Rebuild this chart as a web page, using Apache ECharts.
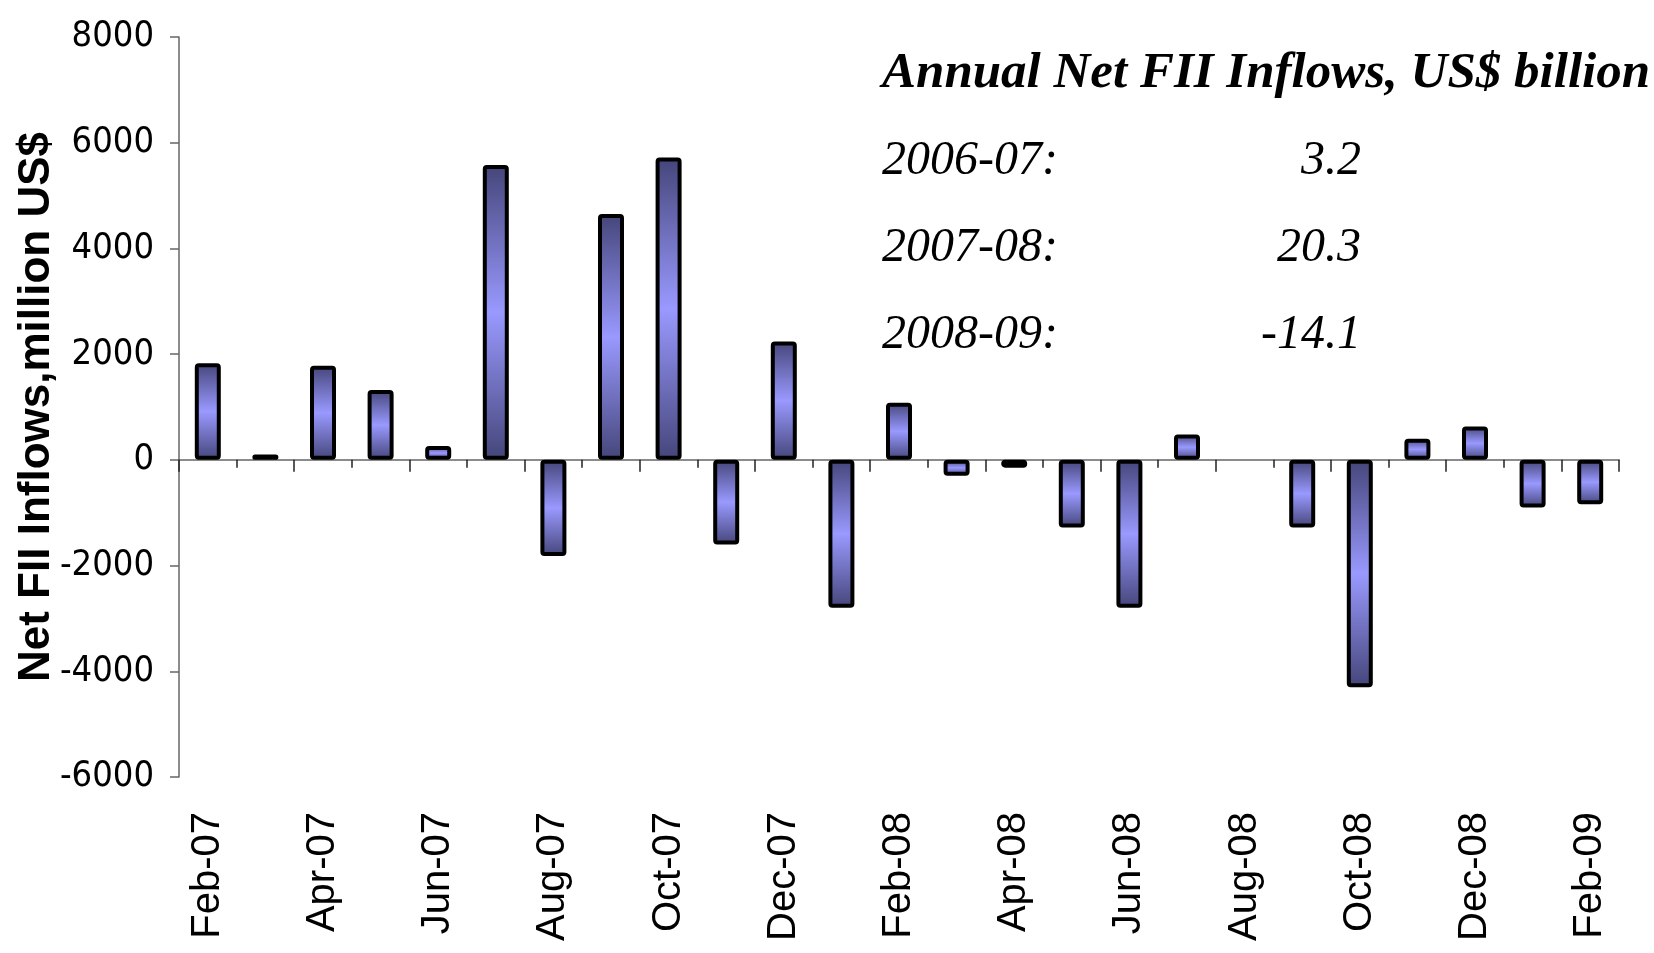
<!DOCTYPE html>
<html>
<head>
<meta charset="utf-8">
<title>Net FII Inflows</title>
<script src="https://cdn.jsdelivr.net/npm/echarts@6/dist/echarts.min.js"></script>
<style>
  html, body { margin: 0; padding: 0; background: #fff; }
  #chart { width: 1654px; height: 953px; }
</style>
</head>
<body>
<div id="chart"></div>
<script>
// monthly net FII inflows, million US$ (Aug-08 has no bar)
var months = ['Feb-07', 'Mar-07', 'Apr-07', 'May-07', 'Jun-07', 'Jul-07', 'Aug-07', 'Sep-07', 'Oct-07',
    'Nov-07', 'Dec-07', 'Jan-08', 'Feb-08', 'Mar-08', 'Apr-08', 'May-08', 'Jun-08', 'Jul-08', 'Aug-08',
    'Sep-08', 'Oct-08', 'Nov-08', 'Dec-08', 'Jan-09', 'Feb-09']
var inflows = [1830, 100, 1780, 1320, 260, 5580, -1820, 4650, 5720,
    -1600, 2240, -2800, 1080, -300, -150, -1280, -2800, 480, null,
    -1280, -4300, 400, 630, -900, -840]

// annual totals, US$ billion
var annualYears = ['2006-07:', '2007-08:', '2008-09:']
var annualValues = ['3.2', '20.3', '-14.1']

var yMin = -6000
var yMax = 8000
var yStep = 2000

var chart = echarts.init(document.getElementById('chart'))

var barColor = new echarts.graphic.LinearGradient(0, 0, 0, 1, [
    { offset: 0, color: '#45457a' },
    { offset: 0.5, color: '#9999ff' },
    { offset: 1, color: '#45457a' }
])

var noteFont = 'italic 48px "Liberation Serif"'
var notes = [{
    type: 'text',
    x: 882,
    y: 74,
    style: {
        text: 'Annual Net FII Inflows, US$ billion',
        font: 'italic bold 51px "Liberation Serif"',
        fill: '#000',
        verticalAlign: 'middle'
    }
}]
annualYears.forEach(function(year, i) {
    notes.push({
        type: 'text',
        x: 882,
        y: 161 + i * 87,
        style: { text: year, font: noteFont, fill: '#000', verticalAlign: 'middle' }
    })
    notes.push({
        type: 'text',
        x: 1361,
        y: 161 + i * 87,
        style: { text: annualValues[i], font: noteFont, fill: '#000', align: 'right', verticalAlign: 'middle' }
    })
})

var option = {
    animation: false,
    backgroundColor: '#fff',
    grid: { left: 179, right: 35, top: 37, bottom: 176, containLabel: false, outerBoundsMode: 'none' },
    xAxis: [{
        // axis at zero, short ticks at every boundary
        type: 'category',
        data: months,
        position: 'bottom',
        axisLine: { onZero: true, lineStyle: { color: '#666', width: 1.5 } },
        axisTick: { show: true, interval: 0, length: 8, lineStyle: { color: '#222', width: 1.5 } },
        axisLabel: { show: false }
    }, {
        // long ticks every second boundary, hanging below the zero line
        type: 'category',
        data: months,
        position: 'top',
        axisLine: { show: false, onZero: true, onZeroAxisIndex: 1 },
        axisTick: { show: true, interval: 1, inside: true, length: 12, lineStyle: { color: '#222', width: 1.5 } },
        axisLabel: { show: false }
    }, {
        // month labels along the bottom of the plot
        type: 'category',
        data: months,
        position: 'bottom',
        axisLine: { show: false, onZero: false },
        axisTick: { show: false },
        axisLabel: {
            interval: 1,
            rotate: 90,
            margin: 35,
            color: '#000',
            fontSize: 40,
            fontFamily: 'Liberation Sans'
        }
    }],
    yAxis: [{
        type: 'value',
        min: yMin,
        max: yMax,
        interval: yStep,
        name: 'Net FII Inflows,million US$',
        nameLocation: 'middle',
        nameGap: 120,
        nameMoveOverlap: false,
        nameTextStyle: { fontSize: 44, fontWeight: 'bold', fontFamily: 'Liberation Sans', color: '#000' },
        axisLine: { show: true, lineStyle: { color: '#666', width: 1.5 } },
        axisTick: { show: true, length: 9, lineStyle: { color: '#666', width: 1.5 } },
        axisLabel: {
            margin: 25,
            fontSize: 36,
            fontFamily: '"Liberation Sans Narrow", "DejaVu Sans Condensed", "Liberation Sans"',
            color: '#000',
            formatter: function(value) { return String(value) }
        },
        splitLine: { show: false }
    }, {
        // hidden twin, only there to carry the second tick row onto zero
        type: 'value',
        min: yMin,
        max: yMax,
        interval: yStep,
        position: 'right',
        axisLine: { show: false },
        axisTick: { show: false },
        axisLabel: { show: false },
        splitLine: { show: false }
    }],
    series: [{
        type: 'bar',
        xAxisIndex: 0,
        yAxisIndex: 0,
        data: inflows,
        barWidth: 26,
        itemStyle: {
            color: barColor,
            borderColor: '#000',
            borderWidth: 4,
            borderRadius: 2
        }
    }],
    graphic: notes
}

chart.setOption(option)
</script>
</body>
</html>
